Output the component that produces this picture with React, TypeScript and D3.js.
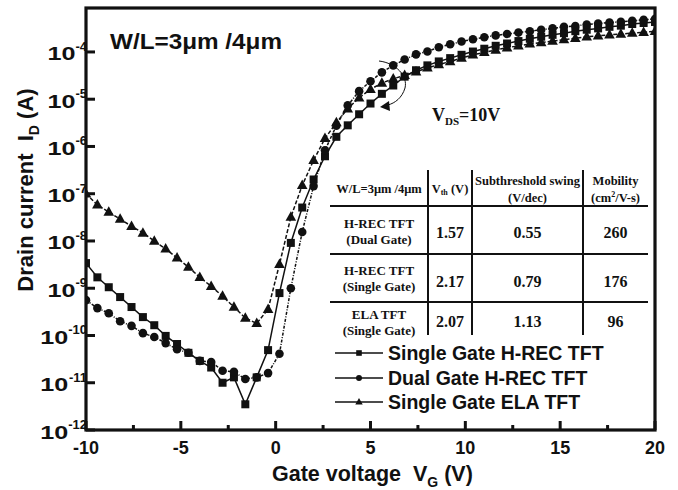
import React from 'react';
import * as d3 from 'd3';

// gate voltage sweep (V)
const gateVoltage = [
  -10, -9.4, -8.8, -8.2, -7.6, -7, -6.4, -5.8, -5.2, -4.6, -4, -3.4, -2.8, -2.2, -1.6, -1,
  -0.4, 0.2, 0.8, 1.4, 2, 2.6, 3.2, 3.8, 4.4, 5,
  5.6, 6.2, 6.8, 7.4, 8, 8.6, 9.2, 9.8, 10.4, 11,
  11.6, 12.2, 12.8, 13.4, 14, 14.6, 15.2, 15.8, 16.4, 17,
  17.6, 18.2, 18.8, 19.4, 20,
];

// drain current (A)
const singleGateHrec = [
  3.4e-9, 1.7e-9, 1.05e-9, 6.5e-10, 4.0e-10, 2.45e-10, 1.65e-10, 9.8e-11, 6.6e-11, 4.3e-11, 2.9e-11, 2.1e-11, 1.0e-11, 1.3e-11, 3.5e-12, 1.3e-11,
  4.9e-11, 7.9e-10, 9.1e-9, 5.1e-8, 2.0e-7, 6.2e-7, 1.6e-6, 2.8e-6, 4.8e-6, 8.1e-6,
  1.3e-5, 1.95e-5, 3.0e-5, 4.1e-5, 5.2e-5, 6.3e-5, 7.4e-5, 8.7e-5, 1.02e-4, 1.17e-4,
  1.35e-4, 1.51e-4, 1.7e-4, 1.9e-4, 2.1e-4, 2.3e-4, 2.5e-4, 2.75e-4, 2.95e-4, 3.15e-4,
  3.4e-4, 3.6e-4, 3.9e-4, 4.1e-4, 4.3e-4,
];
const dualGateHrec = [
  5.6e-10, 3.8e-10, 2.95e-10, 2.0e-10, 1.6e-10, 1.12e-10, 9.3e-11, 6.9e-11, 5.1e-11, 4.3e-11, 2.9e-11, 2.75e-11, 1.8e-11, 1.7e-11, 1.2e-11, 1.3e-11,
  1.6e-11, 4.1e-11, 1.0e-9, 1.55e-8, 1.45e-7, 8.3e-7, 2.75e-6, 7.4e-6, 1.48e-5, 2.4e-5,
  3.7e-5, 5.2e-5, 6.9e-5, 8.9e-5, 1.02e-4, 1.26e-4, 1.45e-4, 1.66e-4, 1.86e-4, 2.05e-4,
  2.24e-4, 2.4e-4, 2.57e-4, 2.75e-4, 2.95e-4, 3.15e-4, 3.4e-4, 3.55e-4, 3.8e-4, 4.0e-4,
  4.2e-4, 4.35e-4, 4.55e-4, 4.8e-4, 5.0e-4,
];
const singleGateEla = [
  1.0e-7, 5.8e-8, 4.1e-8, 2.9e-8, 2.05e-8, 1.48e-8, 1.0e-8, 6.8e-9, 4.4e-9, 2.8e-9, 1.7e-9, 1.1e-9, 6.8e-10, 4.0e-10, 2.35e-10, 1.8e-10,
  3.6e-10, 3.2e-9, 3.2e-8, 1.5e-7, 5.1e-7, 1.48e-6, 3.2e-6, 6.3e-6, 1.07e-5, 1.62e-5,
  2.2e-5, 2.7e-5, 3.2e-5, 3.8e-5, 4.6e-5, 5.4e-5, 6.3e-5, 7.4e-5, 8.7e-5, 9.8e-5,
  1.1e-4, 1.23e-4, 1.35e-4, 1.48e-4, 1.58e-4, 1.7e-4, 1.82e-4, 1.95e-4, 2.1e-4, 2.2e-4,
  2.3e-4, 2.4e-4, 2.5e-4, 2.6e-4, 2.75e-4,
];

const legendLabels = ['Single Gate H-REC TFT', 'Dual Gate H-REC TFT', 'Single Gate ELA TFT'];
const xTicks = [-10, -5, 0, 5, 10, 15, 20];
const xMinorTicks = [-7.5, -2.5, 2.5, 7.5, 12.5, 17.5];
const yTickExponents = [-12, -11, -10, -9, -8, -7, -6, -5, -4];

// parameter table
const tableDevices = [['H-REC TFT', '(Dual Gate)'], ['H-REC TFT', '(Single Gate)'], ['ELA TFT', '(Single Gate)']];
const tableVth = ['1.57', '2.17', '2.07'];
const tableSwing = ['0.55', '0.79', '1.13'];
const tableMobility = ['260', '176', '96'];

const SANS = '"Liberation Sans", Arial, sans-serif';
const SERIF = '"Liberation Serif", "Times New Roman", serif';

const x = d3.scaleLinear().domain([-10, 20]).range([86, 655]);
const y = d3.scaleLog().domain([1e-12, Math.pow(10, -3.07)]).range([430, 8]);

type Kind = 'square' | 'circle' | 'triangle';

const Marker = ({ kind, cx, cy, s = 1 }: { kind: Kind; cx: number; cy: number; s?: number }) => {
  if (kind === 'square') return <rect x={cx - 4 * s} y={cy - 4 * s} width={8 * s} height={8 * s} fill="#111" />;
  if (kind === 'circle') return <circle cx={cx} cy={cy} r={4.3 * s} fill="#111" />;
  const p = [[0, -5.8], [5.3, 3.7], [-5.3, 3.7]].map(([a, b]) => `${cx + a * s},${cy + b * s}`).join(' ');
  return <polygon points={p} fill="#111" />;
};

const series: { values: number[]; kind: Kind; dash: string }[] = [
  { values: singleGateEla, kind: 'triangle', dash: '4,2' },
  { values: singleGateHrec, kind: 'square', dash: 'none' },
  { values: dualGateHrec, kind: 'circle', dash: '3,1.5,1,1.5' },
];

const App = () => {
  const line = d3.line<[number, number]>().x(d => x(d[0])).y(d => y(d[1]));

  return (
    <svg width={678} height={490} style={{ position: 'absolute', left: 0, top: 0, background: '#fff' }}>
      <defs>
        <clipPath id="plot">
          <rect x={86} y={8} width={569} height={422} />
        </clipPath>
      </defs>

      <g clipPath="url(#plot)">
        {series.map((s, i) => (
          <g key={i}>
            <path
              d={line(gateVoltage.map((v, j) => [v, s.values[j]] as [number, number])) || ''}
              fill="none"
              stroke="#111"
              strokeWidth={1.5}
              strokeDasharray={s.dash}
            />
            {gateVoltage.map((v, j) => (
              <Marker key={j} kind={s.kind} cx={x(v)} cy={y(s.values[j])} />
            ))}
          </g>
        ))}
      </g>

      {/* frame */}
      <rect x={86} y={8} width={569} height={422} fill="none" stroke="#111" strokeWidth={3.2} />

      {/* x ticks */}
      {xTicks.map(t => (
        <g key={t}>
          <line x1={x(t)} x2={x(t)} y1={430} y2={421} stroke="#111" strokeWidth={3} />
          <text x={x(t)} y={454} textAnchor="middle" fontFamily={SANS} fontWeight="bold" fontSize={18} fill="#111">
            {t}
          </text>
        </g>
      ))}
      {xMinorTicks.map(t => (
        <line key={t} x1={x(t)} x2={x(t)} y1={430} y2={425} stroke="#111" strokeWidth={3} />
      ))}

      {/* y ticks */}
      {yTickExponents.map(e => {
        const ty = y(Math.pow(10, e));
        const sup = `-${Math.abs(e)}`;
        const supW = 13 * (0.333 + 0.556 * (sup.length - 1));
        return (
          <g key={e}>
            <line x1={86} x2={95} y1={ty} y2={ty} stroke="#111" strokeWidth={3} />
            <text x={87 - supW} y={ty + 8.5} textAnchor="end" fontFamily={SANS} fontWeight="bold" fontSize={19} fill="#111"
              textLength={28} lengthAdjust="spacingAndGlyphs">
              10
            </text>
            <text x={87} y={ty - 1} textAnchor="end" fontFamily={SANS} fontWeight="bold" fontSize={13} fill="#111">
              {sup}
            </text>
          </g>
        );
      })}

      {/* axis titles */}
      <text x={272} y={481} fontFamily={SANS} fontWeight="bold" fontSize={21.5} fill="#111">
        Gate voltage{'\u00a0\u00a0'}V<tspan fontSize={14} dy={6}>G</tspan>
        <tspan dy={-6}> (V)</tspan>
      </text>
      <text transform="translate(33,190) rotate(-90)" textAnchor="middle" fontFamily={SANS} fontWeight="bold" fontSize={22} fill="#111">
        Drain current{'\u00a0\u00a0'}I<tspan fontSize={14} dy={6}>D</tspan>
        <tspan dy={-6}> (A)</tspan>
      </text>

      {/* W/L label */}
      <text x={110} y={49} fontFamily={SANS} fontWeight="bold" fontSize={22} fill="#111" textLength={172} lengthAdjust="spacingAndGlyphs">
        W/L=3μm /4μm
      </text>

      {/* VDS annotation */}
      <path d="M379,61 C396,63 408,76 405,88 C402,98 395,103 388,105" fill="none" stroke="#111" strokeWidth={1} />
      <polygon points="380,107 389,101 390,111" fill="#111" />
      <text x={432} y={121} fontFamily={SERIF} fontWeight="bold" fontSize={18} fill="#111">
        V<tspan fontSize={11} dy={4}>DS</tspan>
        <tspan dy={-4}>=10V</tspan>
      </text>

      {/* table */}
      <g fontFamily={SERIF} fontWeight="bold" fill="#111" textAnchor="middle">
        {[206, 254, 302].map(ly => (
          <line key={ly} x1={330} x2={648} y1={ly} y2={ly} stroke="#111" strokeWidth={2} />
        ))}
        {[428, 472, 583].map(lx => (
          <line key={lx} x1={lx} x2={lx} y1={170} y2={335} stroke="#111" strokeWidth={2} />
        ))}
        <text x={379} y={193} fontSize={12.5}>W/L=3μm /4μm</text>
        <text x={450} y={193} fontSize={12.5}>
          V<tspan fontSize={8} dy={2}>th</tspan>
          <tspan dy={-2}> (V)</tspan>
        </text>
        <text x={527.5} y={185} fontSize={12.5}>Subthreshold swing</text>
        <text x={527.5} y={202} fontSize={12.5}>(V/dec)</text>
        <text x={615.5} y={185} fontSize={12.5}>Mobility</text>
        <text x={615.5} y={202} fontSize={12.5}>
          (cm<tspan fontSize={8} dy={-5}>2</tspan>
          <tspan dy={5}>/V-s)</tspan>
        </text>
        {tableDevices.map((d, i) => {
          const top = [228, 275, 319][i];
          const vy = [238, 287, 327][i];
          return (
            <g key={i}>
              <text x={379} y={top} fontSize={13}>{d[0]}</text>
              <text x={379} y={top + 15.5} fontSize={13}>{d[1]}</text>
              <text x={450} y={vy} fontSize={16}>{tableVth[i]}</text>
              <text x={527.5} y={vy} fontSize={16}>{tableSwing[i]}</text>
              <text x={615.5} y={vy} fontSize={16}>{tableMobility[i]}</text>
            </g>
          );
        })}
      </g>

      {/* legend */}
      {legendLabels.map((lab, i) => {
        const ly = [353, 378, 402][i];
        const kind: Kind = (['square', 'circle', 'triangle'] as Kind[])[i];
        return (
          <g key={lab}>
            <line x1={335} x2={383} y1={ly} y2={ly} stroke="#111" strokeWidth={1.5} />
            <Marker kind={kind} cx={359} cy={ly} s={0.7} />
            <text x={388} y={ly + 7} fontFamily={SANS} fontWeight="bold" fontSize={19.5} fill="#111">
              {lab}
            </text>
          </g>
        );
      })}
    </svg>
  );
};

export default App;
